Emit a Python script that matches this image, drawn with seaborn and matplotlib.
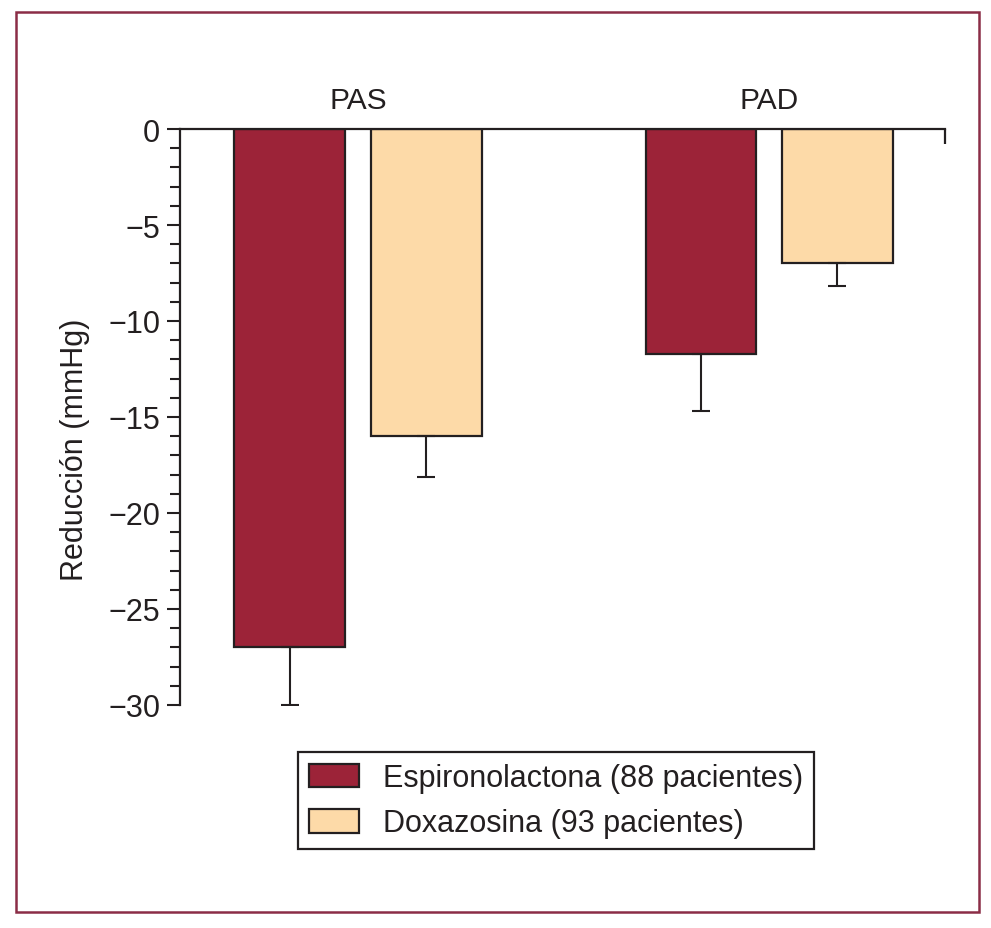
import matplotlib
matplotlib.use('Agg')
import matplotlib.pyplot as plt
import seaborn as sns
import pandas as pd
from matplotlib.patches import Rectangle
from matplotlib.ticker import MultipleLocator

# Datos
grupos = ['PAS', 'PAD']
tratamientos = ['Espironolactona (88 pacientes)', 'Doxazosina (93 pacientes)']
reduccion_espiro = [-27.0, -11.7]
reduccion_doxa = [-16.0, -7.0]
error_espiro = [3.0, 3.0]
error_doxa = [2.1, 1.2]
colores = ['#9C2338', '#FDDAA8']
oscuro = '#231F20'

df = pd.DataFrame({
    'grupo': grupos * 2,
    'tratamiento': [tratamientos[0]] * 2 + [tratamientos[1]] * 2,
    'valor': reduccion_espiro + reduccion_doxa,
    'error': error_espiro + error_doxa,
})

sns.set_style('ticks')
plt.rcParams['font.family'] = ['Liberation Sans', 'DejaVu Sans']
plt.rcParams['text.color'] = oscuro
plt.rcParams['axes.labelcolor'] = oscuro
plt.rcParams['xtick.color'] = oscuro
plt.rcParams['ytick.color'] = oscuro

fig = plt.figure(figsize=(9.91, 9.29), dpi=100)
ax = fig.add_axes([180 / 991, 1 - 706 / 929, 765 / 991, 576 / 929])

sns.barplot(data=df, x='grupo', y='valor', hue='tratamiento', order=grupos,
            hue_order=tratamientos, palette=colores, saturation=1,
            width=0.664, gap=0.19, edgecolor=oscuro, linewidth=1.6,
            errorbar=None, ax=ax)

# barras de error solo hacia abajo
for cont, trat in zip(ax.containers, tratamientos):
    sub = df[df['tratamiento'] == trat].set_index('grupo').loc[grupos]
    xs = [b.get_x() + b.get_width() / 2 for b in cont]
    ax.errorbar(xs, sub['valor'], yerr=[sub['error'], [0] * len(sub)],
                fmt='none', ecolor=oscuro, elinewidth=1.5, capsize=6.5,
                capthick=1.5)

xmax = 1.428
ax.set_xlim(-0.433, xmax)
ax.set_ylim(-30, 0)

for s in ['bottom', 'right']:
    ax.spines[s].set_visible(False)
for s in ['left', 'top']:
    ax.spines[s].set_linewidth(1.6)
    ax.spines[s].set_color(oscuro)

ax.xaxis.tick_top()
ax.set_xticks([0, 1])
ax.set_xticklabels(grupos)
ax.tick_params(axis='x', which='major', length=0, pad=11, labelsize=21.5,
               top=True, bottom=False)
ax.set_xticks([xmax], minor=True)
ax.tick_params(axis='x', which='minor', direction='in', length=11, width=1.6,
               top=True, bottom=False)
ax.set_xlabel('')

ax.yaxis.set_major_locator(MultipleLocator(5))
ax.yaxis.set_minor_locator(MultipleLocator(1))
ax.tick_params(axis='y', which='major', direction='out', length=9.4, width=1.5,
               labelsize=22, pad=5)
ax.tick_params(axis='y', which='minor', direction='out', length=7, width=1.5)
ax.set_ylabel('Reducción (mmHg)', fontsize=22)
ax.yaxis.set_label_coords(-0.118, 0.444)

handles, labels = ax.get_legend_handles_labels()
leg = ax.legend(handles, labels, loc='upper left',
                bbox_to_anchor=(298 / 991, 1 - 753 / 929),
                bbox_transform=fig.transFigure, fontsize=22, frameon=True,
                fancybox=False, edgecolor=oscuro, framealpha=1,
                handlelength=1.63, handleheight=0.82, handletextpad=0.78,
                borderpad=0.36, labelspacing=0.5, borderaxespad=0)
leg.get_frame().set_linewidth(1.6)

# marco exterior
fig.patches.append(Rectangle((16 / 991, 1 - 913 / 929), 963 / 991, 900 / 929,
                             transform=fig.transFigure, fill=False,
                             edgecolor='#8B2D46', linewidth=1.8))

fig.savefig('out.png', dpi=100)
